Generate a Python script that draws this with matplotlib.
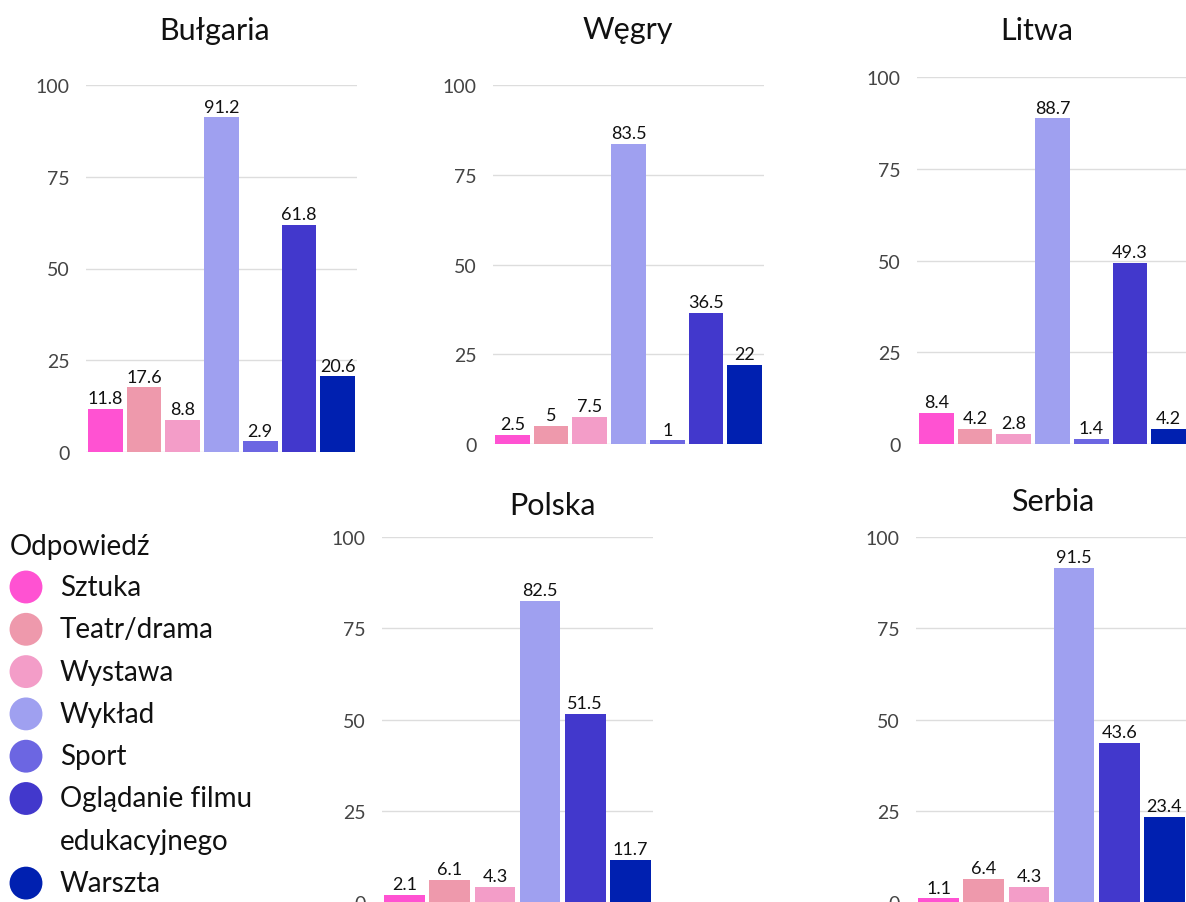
import matplotlib
matplotlib.use('Agg')
import matplotlib.pyplot as plt
import numpy as np

plt.rcParams['font.family'] = ['Lato', 'DejaVu Sans']

categories = ['Sztuka', 'Teatr/drama', 'Wystawa', 'Wykład', 'Sport',
              'Oglądanie filmu\nedukacyjnego', 'Warszta']
colors = ['#FF52D2', '#EE99AC', '#F39DC8', '#9FA0F0', '#6C66E2', '#4238CC', '#0020B0']

countries = ['Bułgaria', 'Węgry', 'Litwa', 'Polska', 'Serbia']
bulgaria = [11.8, 17.6, 8.8, 91.2, 2.9, 61.8, 20.6]
wegry = [2.5, 5, 7.5, 83.5, 1, 36.5, 22]
litwa = [8.4, 4.2, 2.8, 88.7, 1.4, 49.3, 4.2]
polska = [2.1, 6.1, 4.3, 82.5, None, 51.5, 11.7]
serbia = [1.1, 6.4, 4.3, 91.5, None, 43.6, 23.4]
values = [bulgaria, wegry, litwa, polska, serbia]
yticks = [0, 25, 50, 75, 100]

W, H = 1186, 903
fig = plt.figure(figsize=(W / 100, H / 100), dpi=100)

# panel boxes in pixels: left, top, bottom (width is shared)
boxes = [(86, 86, 453), (493, 86, 445), (917, 78, 445), (382, 538, 903.5), (916, 538, 903.5)]
titles_at = [(215, 40), (628, 39), (1037, 40), (552, 515), (1053, 511)]
panel_w = 271

for name, vals, (l, t, b), (tx, ty) in zip(countries, values, boxes, titles_at):
    ax = fig.add_axes([l / W, 1 - b / H, panel_w / W, (b - t) / H])
    idx = [i for i, v in enumerate(vals) if v is not None]
    x = np.arange(len(idx))
    heights = [vals[i] for i in idx]
    bars = ax.bar(x, heights, width=0.9, color=[colors[i] for i in idx], zorder=2)
    for rect, v in zip(bars, heights):
        ax.annotate(f'{v:g}', (rect.get_x() + rect.get_width() / 2, v),
                    xytext=(0, 2), textcoords='offset points',
                    ha='center', va='bottom', fontsize=13, color='#111111',
                    annotation_clip=False)
    ax.set_xlim(-0.5, len(idx) - 0.5)
    ax.set_ylim(0, 100)
    ax.set_yticks(yticks)
    ax.set_xticks([])
    ax.grid(axis='y', color='#DDDDDD', linewidth=1, zorder=0)
    ax.tick_params(axis='y', length=0, pad=12, labelsize=14, labelcolor='#444444')
    for s in ax.spines.values():
        s.set_visible(False)
    ax.set_facecolor('none')
    fig.text(tx / W, 1 - ty / H, name, ha='center', va='baseline', fontsize=22, color='#111111')

# legend drawn in pixel coordinates
lg = fig.add_axes([0, 0, 1, 1])
lg.set_xlim(0, W)
lg.set_ylim(H, 0)
lg.axis('off')
lg.text(10, 555, 'Odpowiedź', fontsize=20, va='baseline', ha='left', color='#111111')
row = 0
step = 42.3
for cat, c in zip(categories, colors):
    y = 588 + step * row
    lg.scatter([26], [y], s=560, color=c, edgecolors='none')
    for j, line in enumerate(cat.split('\n')):
        lg.text(60, y + step * j, line, fontsize=20, va='center', ha='left', color='#111111')
    row += len(cat.split('\n'))

plt.savefig('out.png', dpi=100)
